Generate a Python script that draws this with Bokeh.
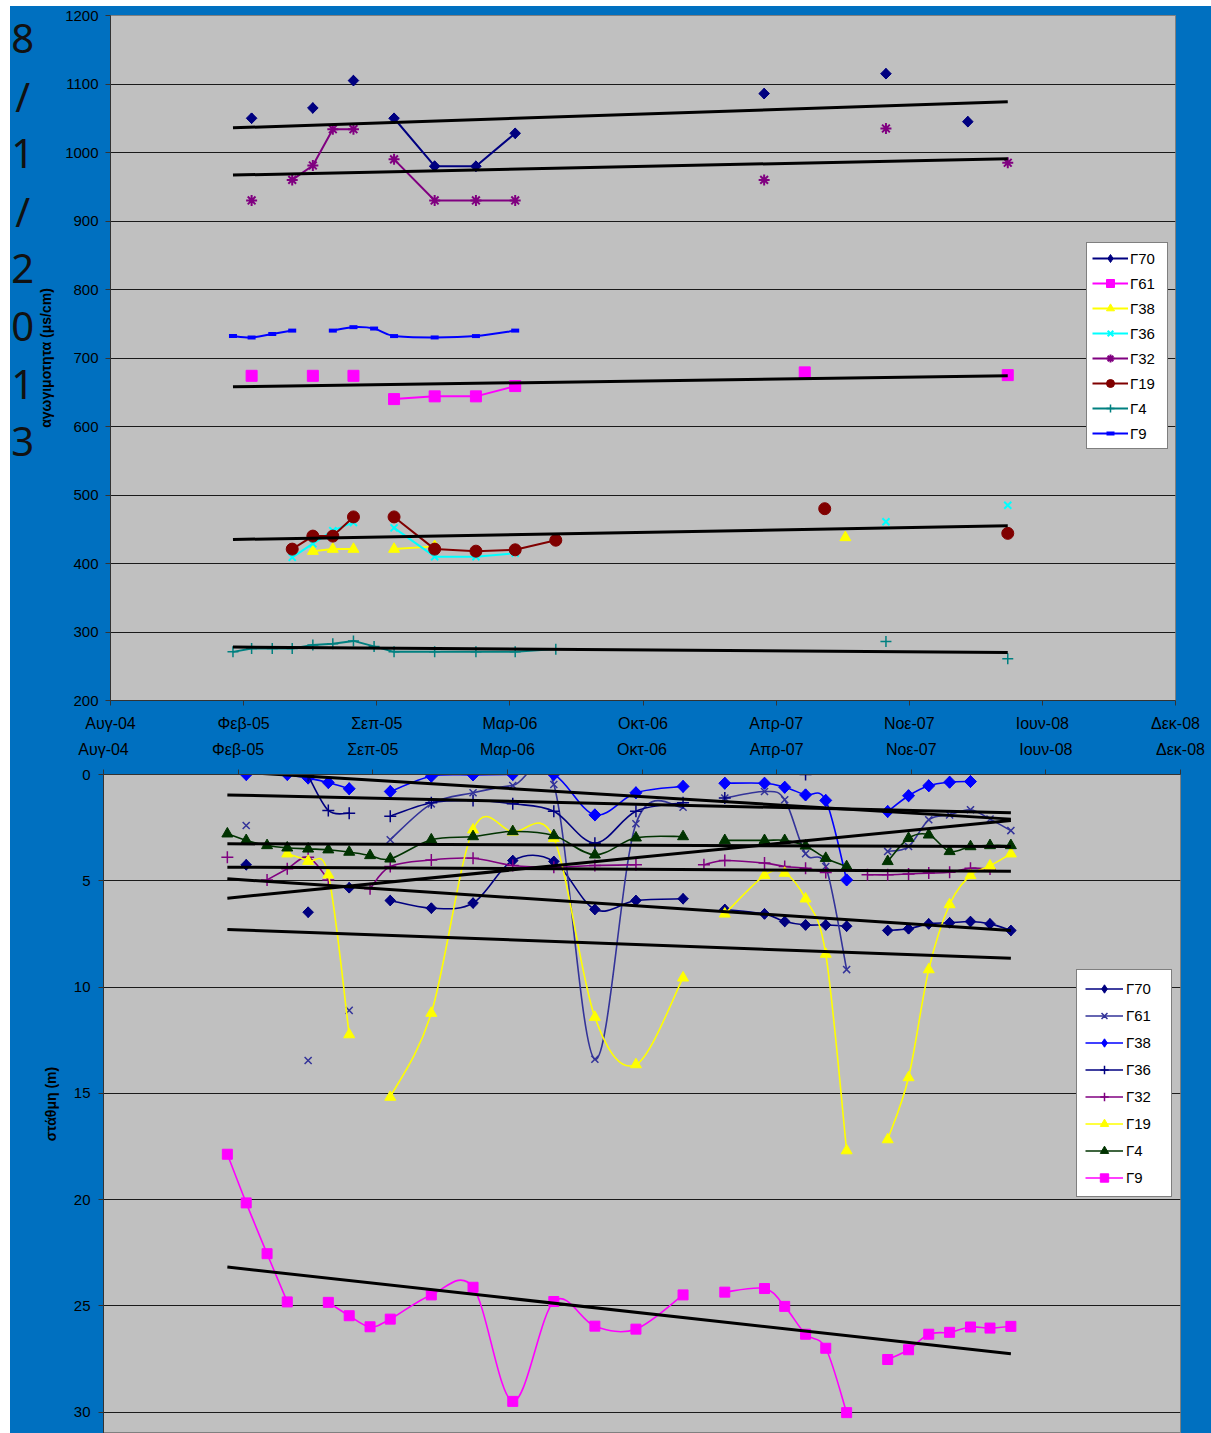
import math
import pandas as pd
from bokeh.plotting import figure
from bokeh.models import Range1d, FixedTicker, Legend, LegendItem, ColumnDataSource, Spacer
from bokeh.layouts import column, row
from bokeh.embed import file_html
from bokeh.resources import INLINE
from bokeh.core.properties import value

N = None

# ---------------- data ----------------
dates = ["2005-02-01", "2005-03-01", "2005-04-01", "2005-05-01", "2005-06-01", "2005-07-01",
         "2005-08-01", "2005-09-01", "2005-10-01", "2005-12-01", "2006-02-01", "2006-04-01",
         "2006-06-01", "2006-08-01", "2006-10-01", "2006-12-10", "2007-01-10", "2007-02-10",
         "2007-04-10", "2007-05-10", "2007-06-10", "2007-07-10", "2007-08-10", "2007-09-10",
         "2007-10-10", "2007-11-10", "2007-12-10", "2008-01-10", "2008-02-10", "2008-03-10",
         "2008-04-10"]

tick_dates = ["2004-08-01", "2005-02-17", "2005-09-05", "2006-03-24", "2006-10-10",
              "2007-04-28", "2007-11-14", "2008-06-01", "2008-12-18"]
tick_labels = ["Αυγ-04", "Φεβ-05", "Σεπ-05", "Μαρ-06", "Οκτ-06", "Απρ-07", "Νοε-07", "Ιουν-08", "Δεκ-08"]

names = ["Γ70", "Γ61", "Γ38", "Γ36", "Γ32", "Γ19", "Γ4", "Γ9"]

# conductivity (μs/cm)
cond_G70 = [N, 1050, N, N, 1065, N, 1105, N, 1050, 980, 980, 1028, N, N, N, N, N, N, 1086, N, N, N, N, N, 1115, N, N, N, 1045, N, N]
cond_G61 = [N, 674, N, N, 674, N, 674, N, 640, 644, 644, 659, N, N, N, N, N, N, N, N, 679, N, N, N, N, N, N, N, N, N, 675]
cond_G38 = [N, N, N, N, 418, 421, 421, N, 421, 425, N, N, N, N, N, N, N, N, N, N, N, N, 438, N, N, N, N, N, N, N, N]
cond_G36 = [N, N, N, 409, 429, 448, 460, N, 452, 410, 410, 415, N, N, N, N, N, N, N, N, N, N, N, N, 461, N, N, N, N, N, 485]
cond_G32 = [N, 930, N, 960, 981, 1034, 1034, N, 990, 930, 930, 930, N, N, N, N, N, N, 960, N, N, N, N, N, 1035, N, N, N, N, N, 985]
cond_G19 = [N, N, N, 421, 440, 440, 468, N, 468, 421, 418, 420, 434, N, N, N, N, N, N, N, N, 480, N, N, N, N, N, N, N, N, 444]
cond_G4 = [271, 276, 276, 276, 281, 283, 287, 279, 271, 271, 271, 271, 275, N, N, N, N, N, N, N, N, N, N, N, 286, N, N, N, N, N, 261]
cond_G9 = [732, 730, 735, 740, N, 740, 745, 743, 732, 730, 732, 740, N, N, N, N, N, N, N, N, N, N, N, N, N, N, N, N, N, N, N]

# conductivity trend lines (first date -> last date)
cond_trend_names = ["Γ70", "Γ32", "Γ61", "Γ19", "Γ4"]
cond_trend_start = [1036, 967, 658, 435, 278]
cond_trend_end = [1074, 991, 674, 455, 270]

# water level (m)
lvl_G70 = [N, 4.25, N, N, 6.48, N, 5.33, N, 5.93, 6.29, 6.05, 4.05, 4.09, 6.35, 5.93, 5.85, N, 6.35, 6.56, 6.92, 7.08, 7.08, 7.14, N, 7.34, 7.26, 7.03, 6.98, 6.92, 7.03, 7.34]
lvl_G61 = [N, 2.4, N, N, 13.46, N, 11.1, N, 3.07, 1.38, 0.86, 0.52, 0.47, 13.4, 2.32, 1.54, N, 1.11, 0.8, 1.19, 3.73, 4.33, 9.18, N, 3.62, 3.39, 2.13, 1.9, 1.66, 2.1, 2.64]
lvl_G38 = [N, 0.0, N, 0.0, 0.17, 0.38, 0.67, N, 0.8, 0.08, 0.02, 0.0, 0.0, 1.9, 0.86, 0.56, N, 0.41, 0.41, 0.6, 0.96, 1.22, 4.96, N, 1.74, 1.0, 0.53, 0.36, 0.33, N, N]
lvl_G36 = [N, N, N, N, 0.05, 1.69, 1.82, N, 1.96, 1.33, 1.22, 1.38, 1.73, 3.23, 1.73, 1.33, N, 1.11, N, N, 0.0, N, N, N, N, N, N, N, N, N, N]
lvl_G32 = [3.89, N, 4.96, 4.44, 3.89, 4.96, N, 5.38, 4.33, 4.02, 3.94, 4.28, 4.36, 4.28, 4.25, N, 4.25, 4.05, 4.17, 4.33, 4.41, 4.61, N, 4.72, 4.72, 4.68, 4.64, 4.6, 4.41, 4.45, N]
lvl_G19 = [N, N, N, 3.73, 4.08, 4.72, 12.24, N, 15.18, 11.23, 2.6, 2.7, 3.0, 11.42, 13.65, 9.57, N, 6.56, 4.75, 4.64, 5.85, 8.45, 17.7, N, 17.18, 14.26, 9.18, 6.12, 4.75, 4.3, 3.73]
lvl_G4 = [2.79, 3.1, 3.34, 3.45, 3.5, 3.54, 3.65, 3.81, 3.97, 3.07, 2.92, 2.68, 2.87, 3.78, 2.98, 2.92, N, 3.1, 3.1, 3.1, 3.36, 3.94, 4.33, N, 4.09, 3.0, 2.84, 3.62, 3.39, 3.34, 3.34]
lvl_G9 = [17.87, 20.16, 22.55, 24.82, N, 24.84, 25.47, 25.99, 25.63, 24.49, 24.13, 29.5, 24.8, 25.96, 26.1, 24.49, N, 24.36, 24.19, 25.03, 26.34, 27.0, 30.03, N, 27.53, 27.07, 26.34, 26.25, 26.0, 26.05, 25.97]

lvl_trend_names = ["Γ9", "Γ61", "Γ70", "Γ32", "Γ4", "Γ19", "Γ36", "Γ38"]
lvl_trend_start = [23.18, 7.29, 4.91, 4.36, 3.26, 5.82, 0.96, -0.15]
lvl_trend_end = [27.26, 8.65, 7.34, 4.55, 3.39, 2.16, 1.80, 2.10]

date_text = "8/1/2013"

# ---------------- helpers ----------------
def serial(ds):
    return [(pd.Timestamp(d) - pd.Timestamp("1899-12-30")).days for d in ds]

X = serial(dates)
XT = serial(tick_dates)

def nanify(v):
    return [float("nan") if a is None else a for a in v]

def runs(xs, ys):
    out, cur = [], []
    for x, y in zip(xs, ys):
        if y is None:
            if cur:
                out.append(cur)
            cur = []
        else:
            cur.append((x, y))
    if cur:
        out.append(cur)
    return out

def bez(xs, ys):
    d = dict(x0=[], y0=[], x1=[], y1=[], cx0=[], cy0=[], cx1=[], cy1=[])
    for r in runs(xs, ys):
        n = len(r)
        for i in range(n - 1):
            p0 = r[i - 1] if i > 0 else r[i]
            p1, p2 = r[i], r[i + 1]
            p3 = r[i + 2] if i + 2 < n else r[i + 1]
            d["x0"].append(p1[0]); d["y0"].append(p1[1])
            d["x1"].append(p2[0]); d["y1"].append(p2[1])
            d["cx0"].append(p1[0] + (p2[0] - p0[0]) / 6.0)
            d["cy0"].append(p1[1] + (p2[1] - p0[1]) / 6.0)
            d["cx1"].append(p2[0] - (p3[0] - p1[0]) / 6.0)
            d["cy1"].append(p2[1] - (p3[1] - p1[1]) / 6.0)
    return ColumnDataSource(d)

BLUE = "#0070C0"
PLOT_BG = "#C0C0C0"
FONT = "Liberation Sans"

def style(p, yticks):
    p.background_fill_color = PLOT_BG
    p.border_fill_color = BLUE
    p.outline_line_color = "#808080"
    p.outline_line_width = 1
    p.xgrid.visible = False
    p.ygrid.ticker = FixedTicker(ticks=yticks)
    p.ygrid.grid_line_color = "#1a1a1a"
    p.ygrid.grid_line_width = 1
    for ax in [p.xaxis[0], p.yaxis[0]]:
        ax.axis_line_color = "#333333"
        ax.major_tick_line_color = "#333333"
        ax.major_tick_out = 5
        ax.major_tick_in = 0
        ax.minor_tick_line_color = None
        ax.major_label_text_font = FONT
        ax.major_label_text_color = "black"
        ax.axis_label_text_font = FONT
        ax.axis_label_text_font_style = "bold"
        ax.axis_label_text_color = "black"
    p.xaxis.ticker = FixedTicker(ticks=XT)
    p.xaxis.major_label_overrides = dict(zip(XT, tick_labels))
    p.xaxis.major_label_text_font_size = "16px"
    p.yaxis.ticker = FixedTicker(ticks=yticks)
    p.yaxis.major_label_text_font_size = "15px"

def add_series(p, series, smooth_all, lw_line):
    items = []
    for name, vals, col, mk, sz, lw in series:
        if smooth_all or name == "Γ9":
            lr = p.bezier(x0="x0", y0="y0", x1="x1", y1="y1", cx0="cx0", cy0="cy0",
                          cx1="cx1", cy1="cy1", source=bez(X, vals), line_color=col,
                          line_width=lw_line)
        else:
            lr = p.line(X, nanify(vals), line_color=col, line_width=lw_line)
        if mk == "diamond":
            # narrow diamond hidden under the rotated square; it gives the legend its glyph
            lg = p.scatter(X, nanify(vals), marker="diamond", size=sz * 1.41,
                           fill_color=col, line_color=col, line_width=lw)
            p.scatter(X, nanify(vals), marker="square", size=sz, angle=math.radians(45),
                      fill_color=col, line_color=col, line_width=lw)
            rs = [lr, lg]
        else:
            sr = p.scatter(X, nanify(vals), marker=mk, size=sz,
                           fill_color=col, line_color=col, line_width=lw)
            rs = [lr, sr]
        items.append(LegendItem(label=name, renderers=rs))
    return items

# ---------------- vertical date text ----------------
TH = 731
TW = 25
tfig = figure(width=TW, height=TH, output_backend="svg", toolbar_location=None,
              x_range=Range1d(0, TW), y_range=Range1d(700, 15),
              x_axis_type=None, y_axis_type=None, min_border=0)
tfig.background_fill_color = BLUE
tfig.border_fill_color = BLUE
tfig.outline_line_color = None
tfig.grid.visible = False
chars = list(date_text)
tfig.text(x=[12.3] * len(chars), y=[38 + i * 57.6 for i in range(len(chars))], text=chars,
          text_font=value("Noto Sans"), text_font_size="40px", text_color="#111111",
          text_align="center", text_baseline="middle")

# ---------------- top chart ----------------
p1 = figure(width=1201 - TW, height=TH, output_backend="svg", toolbar_location=None,
            x_range=Range1d(XT[0], XT[-1]), y_range=Range1d(200, 1200),
            min_border_left=75, min_border_right=36, min_border_top=9, min_border_bottom=37)
style(p1, list(range(200, 1201, 100)))
p1.xaxis.major_label_standoff = 9
p1.yaxis.major_label_standoff = 7
p1.yaxis.axis_label = "αγωγιμοτητα (μs/cm)"
p1.yaxis.axis_label_text_font_size = "14px"
p1.yaxis.axis_label_standoff = 8

top_series = [
    ("Γ70", cond_G70, "#000080", "diamond", 7.5, 1),
    ("Γ61", cond_G61, "#FF00FF", "square", 11, 1),
    ("Γ38", cond_G38, "#FFFF00", "triangle", 11, 1),
    ("Γ36", cond_G36, "#00FFFF", "x", 10, 2),
    ("Γ32", cond_G32, "#800080", "asterisk", 11, 2),
    ("Γ19", cond_G19, "#800000", "circle", 12, 1),
    ("Γ4", cond_G4, "#008080", "cross", 11, 1.5),
    ("Γ9", cond_G9, "#0000FF", "dash", 8, 4),
]
items1 = add_series(p1, top_series, False, 2)

for s, e in zip(cond_trend_start, cond_trend_end):
    p1.line([X[0], X[-1]], [s, e], line_color="black", line_width=3)

leg1 = Legend(items=items1, location=(976, 251), orientation="vertical",
              background_fill_color="white", background_fill_alpha=1,
              border_line_color="black", border_line_width=1,
              label_text_font=FONT, label_text_font_size="15px", label_text_color="black",
              glyph_width=36, glyph_height=20, label_height=20, label_standoff=2,
              label_width=32, spacing=5, padding=5, margin=0)
p1.add_layout(leg1)

# ---------------- bottom chart ----------------
H2 = 696
p2 = figure(width=1201, height=H2, output_backend="svg", toolbar_location=None,
            x_range=Range1d(XT[0], XT[-1]), y_range=Range1d(659 / 21.25, 0),
            x_axis_location="above",
            min_border_left=93, min_border_right=31, min_border_top=37, min_border_bottom=0)
style(p2, list(range(0, 31, 5)))
p2.xaxis.major_label_standoff = 12
p2.yaxis.major_label_standoff = 8
p2.yaxis.axis_label = "στάθμη (m)"
p2.yaxis.axis_label_text_font_size = "14px"
p2.yaxis.axis_label_standoff = 12

bot_series = [
    ("Γ70", lvl_G70, "#000080", "diamond", 7.5, 1),
    ("Γ61", lvl_G61, "#333399", "x", 10, 1.5),
    ("Γ38", lvl_G38, "#0000FF", "diamond", 8.5, 1),
    ("Γ36", lvl_G36, "#000080", "cross", 12, 1.5),
    ("Γ32", lvl_G32, "#800080", "cross", 12, 1.5),
    ("Γ19", lvl_G19, "#FFFF00", "triangle", 11, 1),
    ("Γ4", lvl_G4, "#003300", "triangle", 11, 1),
    ("Γ9", lvl_G9, "#FF00FF", "square", 10, 1),
]
items2 = add_series(p2, bot_series, True, 1.6)

for s, e in zip(lvl_trend_start, lvl_trend_end):
    p2.line([X[0], X[-1]], [s, e], line_color="black", line_width=3)

leg2 = Legend(items=items2, location=(973, 236), orientation="vertical",
              background_fill_color="white", background_fill_alpha=1,
              border_line_color="black", border_line_width=1,
              label_text_font=FONT, label_text_font_size="15px", label_text_color="black",
              glyph_width=38, glyph_height=21, label_height=21, label_standoff=3,
              label_width=37, spacing=6, padding=8, margin=0)
p2.add_layout(leg2)

inner = column(row(tfig, p1, spacing=0), p2, spacing=0,
               styles={"background-color": BLUE})
layout = column(
    Spacer(width=1211, height=6),
    row(Spacer(width=10, height=TH + H2), inner, spacing=0),
    spacing=0)
open("out.html", "w").write(file_html(layout, INLINE))
